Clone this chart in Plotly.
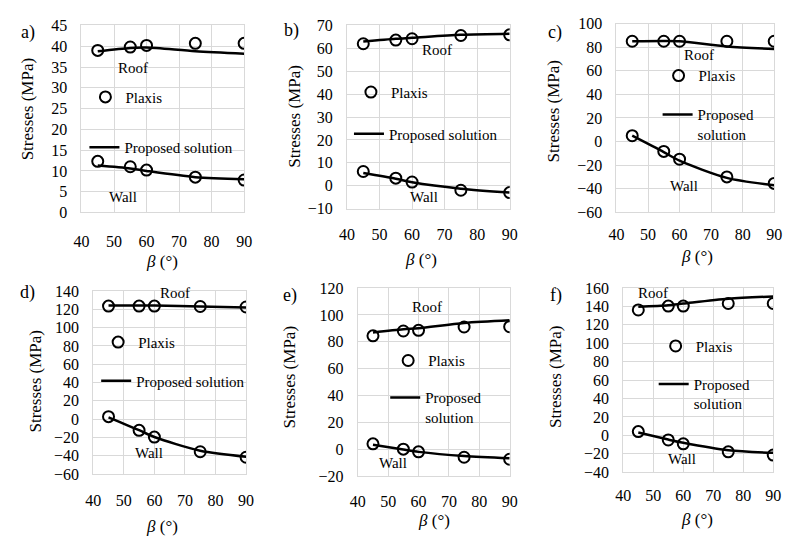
import plotly.graph_objects as go

W, H = 792, 549
FONT = "Liberation Serif"

beta = [45, 55, 60, 75, 90]

# Panel data: Plaxis (circles) and proposed solution (lines), roof and wall
a_plaxis_roof = [39.0, 39.8, 40.2, 40.7, 40.7]
a_prop_roof = [38.8, 39.6, 39.7, 38.8, 38.2]
a_plaxis_wall = [12.3, 11.0, 10.2, 8.5, 7.8]
a_prop_wall = [11.3, 10.6, 10.0, 8.5, 8.0]

b_plaxis_roof = [62.0, 63.6, 64.2, 65.6, 65.9]
b_prop_roof = [63.0, 64.2, 64.6, 65.9, 66.4]
b_plaxis_wall = [6.2, 3.3, 1.6, -2.0, -3.0]
b_prop_wall = [5.5, 3.0, 1.5, -1.3, -3.0]

c_plaxis_roof = [85.0, 85.0, 85.0, 85.0, 85.0]
c_prop_roof = [85.0, 85.2, 85.0, 80.6, 78.4]
c_plaxis_wall = [5.0, -8.3, -14.9, -29.9, -35.4]
c_prop_wall = [5.0, -8.9, -16.2, -30.7, -37.0]

d_plaxis_roof = [123.5, 123.5, 123.5, 123.0, 122.5]
d_prop_roof = [124.0, 124.0, 124.0, 123.0, 122.0]
d_plaxis_wall = [2.7, -12.2, -19.6, -35.6, -41.6]
d_prop_wall = [2.0, -12.0, -19.5, -34.5, -41.0]

e_plaxis_roof = [84.4, 88.0, 88.5, 91.0, 91.2]
e_prop_roof = [86.9, 89.3, 90.0, 94.0, 96.0]
e_plaxis_wall = [4.0, 0.0, -2.0, -6.0, -7.5]
e_prop_wall = [3.3, -0.3, -2.0, -5.1, -6.8]

f_plaxis_roof = [136.2, 140.4, 140.4, 143.2, 143.2]
f_prop_roof = [139.7, 141.4, 143.2, 148.4, 150.9]
f_plaxis_wall = [4.1, -5.0, -9.2, -17.9, -21.4]
f_prop_wall = [3.1, -4.6, -8.1, -16.2, -19.0]

x_range = [40, 90]
x_ticks = [40, 50, 60, 70, 80, 90]
y_ranges = [[0, 45], [-10, 70], [-60, 100], [-60, 140], [-20, 120], [-40, 160]]
y_dticks = [5, 10, 20, 20, 20, 20]
panel_labels = ["a)", "b)", "c)", "d)", "e)", "f)"]
prop_names = ["Proposed solution", "Proposed solution", "Proposed<br>solution",
              "Proposed solution", "Proposed<br>solution", "Proposed<br>solution"]

panels = [
    (a_plaxis_roof, a_prop_roof, a_plaxis_wall, a_prop_wall),
    (b_plaxis_roof, b_prop_roof, b_plaxis_wall, b_prop_wall),
    (c_plaxis_roof, c_prop_roof, c_plaxis_wall, c_prop_wall),
    (d_plaxis_roof, d_prop_roof, d_plaxis_wall, d_prop_wall),
    (e_plaxis_roof, e_prop_roof, e_plaxis_wall, e_prop_wall),
    (f_plaxis_roof, f_prop_roof, f_plaxis_wall, f_prop_wall),
]

# ---- layout (pixel positions) ----
plot_boxes = [  # left, right, top, bottom
    (75, 241, 18, 211), (346, 512, 18, 207), (621, 782, 16, 211),
    (87, 243, 292, 481), (357, 512, 289, 483), (628, 781, 289, 479),
]
xtick_standoff = [14, 11, 7, 12, 11, 9]
ytitle_pos = [(20, 105), (292, 112), (557, 107), (28, 385), (287, 381), (558, 381)]
xtitle_pos = [(157, 262), (422, 260), (703, 256), (157, 535), (435, 529), (703, 528)]
label_pos = [(20, 25), (289, 23), (558, 25), (20, 294), (288, 297), (559, 297)]
roof_pos = [(128, 62), (438, 43), (705, 49), (170, 294), (428, 309), (658, 294)]
wall_pos = [(117, 195), (425, 195), (690, 184), (144, 459), (393, 470), (688, 465)]
plaxis_leg = [(99, 97), (370, 92), (684, 75), (112, 350), (408, 369), (681, 354)]
prop_leg = [(81, 147), (351, 133), (666, 114), (93, 388), (388, 406), (662, 392)]

GRID = "#d9d9d9"


def px(x):
    return x / W


def py(y):
    return 1 - y / H


fig = go.Figure()
layout = dict(
    width=W, height=H, margin=dict(l=0, r=0, t=0, b=0),
    paper_bgcolor="white", plot_bgcolor="white",
    font=dict(family=FONT, size=15, color="black"),
    showlegend=True, annotations=[],
)

for i, (pr, qr, pw, qw) in enumerate(panels):
    k = i + 1
    xa = "x" if k == 1 else f"x{k}"
    ya = "y" if k == 1 else f"y{k}"
    lg1 = "legend" if k == 1 else f"legend{2 * k - 1}"
    lg2 = f"legend{2 * k}"
    line = dict(color="black", width=2.5, shape="spline", smoothing=0.8)
    mk = dict(symbol="circle-open", size=11, color="black", line=dict(width=2, color="black"))
    fig.add_trace(go.Scatter(x=beta, y=qr, mode="lines", line=line, xaxis=xa, yaxis=ya,
                             name=prop_names[i], legend=lg2, showlegend=True))
    fig.add_trace(go.Scatter(x=beta, y=qw, mode="lines", line=line, xaxis=xa, yaxis=ya,
                             showlegend=False))
    fig.add_trace(go.Scatter(x=beta, y=pr, mode="markers", marker=mk, xaxis=xa, yaxis=ya,
                             name="Plaxis", legend=lg1, showlegend=True))
    fig.add_trace(go.Scatter(x=beta, y=pw, mode="markers", marker=mk, xaxis=xa, yaxis=ya,
                             showlegend=False))

    l, r, t, b = plot_boxes[i]
    xkey = "xaxis" if k == 1 else f"xaxis{k}"
    ykey = "yaxis" if k == 1 else f"yaxis{k}"
    layout[xkey] = dict(
        domain=[px(l), px(r)], anchor=ya, range=x_range, tickvals=x_ticks,
        showgrid=True, gridcolor=GRID, gridwidth=1, zeroline=False,
        showline=True, linecolor=GRID, mirror=True, ticks="",
        tickfont=dict(size=16, family=FONT), ticklabelstandoff=xtick_standoff[i],
        fixedrange=True,
    )
    layout[ykey] = dict(
        domain=[py(b), py(t)], anchor=xa, range=y_ranges[i], dtick=y_dticks[i],
        showgrid=True, gridcolor=GRID, gridwidth=1, zeroline=True, zerolinecolor=GRID,
        zerolinewidth=1, showline=True, linecolor=GRID, mirror=True, ticks="",
        tickfont=dict(size=16, family=FONT), ticklabelstandoff=10, fixedrange=True,
    )

    mx, my = plaxis_leg[i]
    layout[lg1] = dict(x=px(mx - 20), y=py(my - 5), xanchor="left", yanchor="middle",
                       bgcolor="rgba(0,0,0,0)", borderwidth=0, itemwidth=30,
                       font=dict(size=15, family=FONT), tracegroupgap=0)
    lx, ly = prop_leg[i]
    multi = "<br>" in prop_names[i]
    layout[lg2] = dict(x=px(lx - 3), y=py(ly + (6 if multi else -3)), xanchor="left",
                       yanchor="middle", bgcolor="rgba(0,0,0,0)", borderwidth=0,
                       itemwidth=30, valign="top",
                       font=dict(size=15, family=FONT), tracegroupgap=0)

    ann = layout["annotations"]
    common = dict(xref="paper", yref="paper", showarrow=False,
                  xanchor="center", yanchor="middle")
    tx, ty = ytitle_pos[i]
    ann.append(dict(text="Stresses (MPa)", x=px(tx), y=py(ty), textangle=-90,
                    font=dict(size=17, family=FONT), **common))
    tx, ty = xtitle_pos[i]
    ann.append(dict(text="<i>β</i> (°)", x=px(tx), y=py(ty),
                    font=dict(size=17, family=FONT), **common))
    tx, ty = label_pos[i]
    ann.append(dict(text=panel_labels[i], x=px(tx), y=py(ty),
                    font=dict(size=18, family=FONT), **common))
    tx, ty = roof_pos[i]
    ann.append(dict(text="Roof", x=px(tx), y=py(ty),
                    font=dict(size=15, family=FONT), **common))
    tx, ty = wall_pos[i]
    ann.append(dict(text="Wall", x=px(tx), y=py(ty),
                    font=dict(size=15, family=FONT), **common))

fig.update_layout(**layout)
fig.write_html("out.html")
